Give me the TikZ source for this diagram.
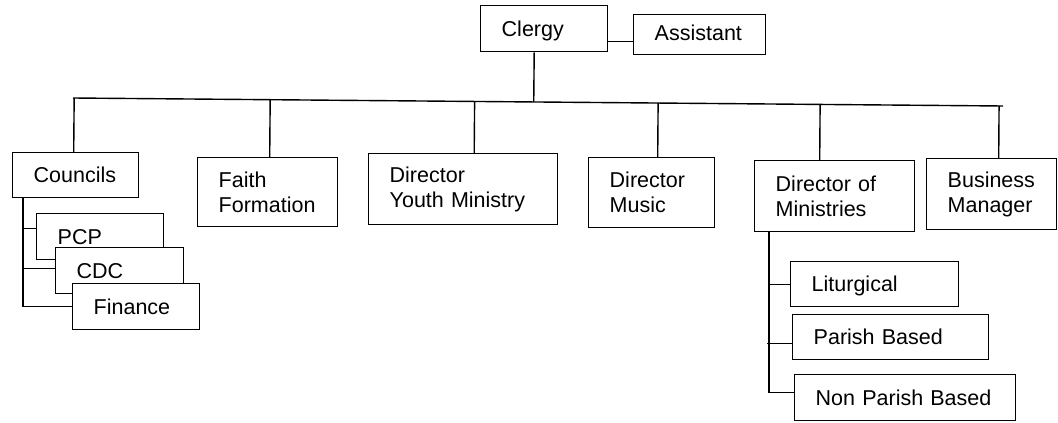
\documentclass[tikz,border=0pt]{standalone}
\usepackage{fontspec}
\setmainfont{Liberation Sans}
\usetikzlibrary{calc}
\tikzset{
  box/.style={draw, line width=1.4pt, fill=white, anchor=north west, align=left,
    inner xsep=21pt, inner ysep=0pt, font=\fontsize{21.5}{25}\selectfont},
  conn/.style={line width=1.4pt},
}
\begin{document}
\begin{tikzpicture}[x=1pt,y=-1pt]
\useasboundingbox (0,0) rectangle (1058,423);
% top
\node[box, text width=85pt, minimum height=46pt, text depth=0pt] (clergy) at (480,5) {Clergy};
\node[box, text width=90pt, minimum height=40pt, text depth=0pt, text height=12pt] (assistant) at (633,14) {Assistant};
% second level
\node[box, text width=84pt, minimum height=45pt] (councils) at (12,152) {Councils};
\node[box, text width=98pt, minimum height=69pt] (faith) at (197,157) {Faith\\Formation};
\node[box, text width=147pt, minimum height=71pt] (youth) at (368,153) {Director\\Youth~Ministry};
\node[box, text width=84pt, minimum height=70pt] (music) at (588,157) {Director\\Music};
\node[box, text width=118pt, minimum height=71pt] (ministries) at (754,160) {Director~of\\Ministries};
\node[box, text width=88pt, minimum height=71pt] (business) at (926,158) {Business\\Manager};
% councils
\node[box, text width=85pt, minimum height=46pt] (pcp) at (36,213) {PCP};
\node[box, text width=86pt, minimum height=46pt] (cdc) at (55,247) {CDC};
\node[box, text width=85pt, minimum height=46pt] (finance) at (72,283) {Finance};
% ministries
\node[box, text width=126pt, minimum height=45pt, text depth=0pt] (liturgical) at (790,261) {Liturgical};
\node[box, text width=154pt, minimum height=45pt] (parish) at (792,314) {Parish~Based};
\node[box, text width=179pt, minimum height=46pt] (nonparish) at (794,374) {Non~Parish~Based};

% connectors
\draw[conn] ([yshift=-13pt]clergy.east) coordinate (ca) -- (ca -| assistant.west);
\coordinate (busL) at (73,98);
\coordinate (busR) at (1003,106);
\draw[conn] (busL) -- (busR);
\draw[conn] ([xshift=-10pt]clergy.south) coordinate (c0) -- ($(busL)!(c0)!(busR)$);
\draw[conn] ([xshift=-2pt]councils.north) coordinate (s1) -- ($(busL)!(s1)!(busR)$);
\draw[conn] ([xshift=2pt]faith.north) coordinate (s2) -- ($(busL)!(s2)!(busR)$);
\draw[conn] ([xshift=11pt]youth.north) coordinate (s3) -- ($(busL)!(s3)!(busR)$);
\draw[conn] ([xshift=6pt]music.north) coordinate (s4) -- ($(busL)!(s4)!(busR)$);
\draw[conn] ([xshift=-15pt]ministries.north) coordinate (s5) -- ($(busL)!(s5)!(busR)$);
\draw[conn] ([xshift=7pt]business.north) coordinate (s6) -- ($(busL)!(s6)!(busR)$);
% councils subtree
\draw[conn] ([xshift=11pt]councils.south west) coordinate (k0) -- (k0 |- finance.west) -- (finance.west);
\draw[conn] ([yshift=8pt]pcp.west) coordinate (k1) -- (k1 -| k0);
\draw[conn] ([yshift=2pt]cdc.west) coordinate (k2) -- (k2 -| k0);
% ministries subtree
\coordinate (m3) at ([yshift=5pt]nonparish.west);
\draw[conn] ([xshift=15pt]ministries.south west) coordinate (m0) -- (m0 |- m3) -- (m3);
\draw[conn] (liturgical.west) -- (liturgical.west -| m0);
\draw[conn] ([yshift=-6.5pt]parish.west) coordinate (m2) -- ([xshift=-2pt]m2 -| m0);
\end{tikzpicture}
\end{document}
